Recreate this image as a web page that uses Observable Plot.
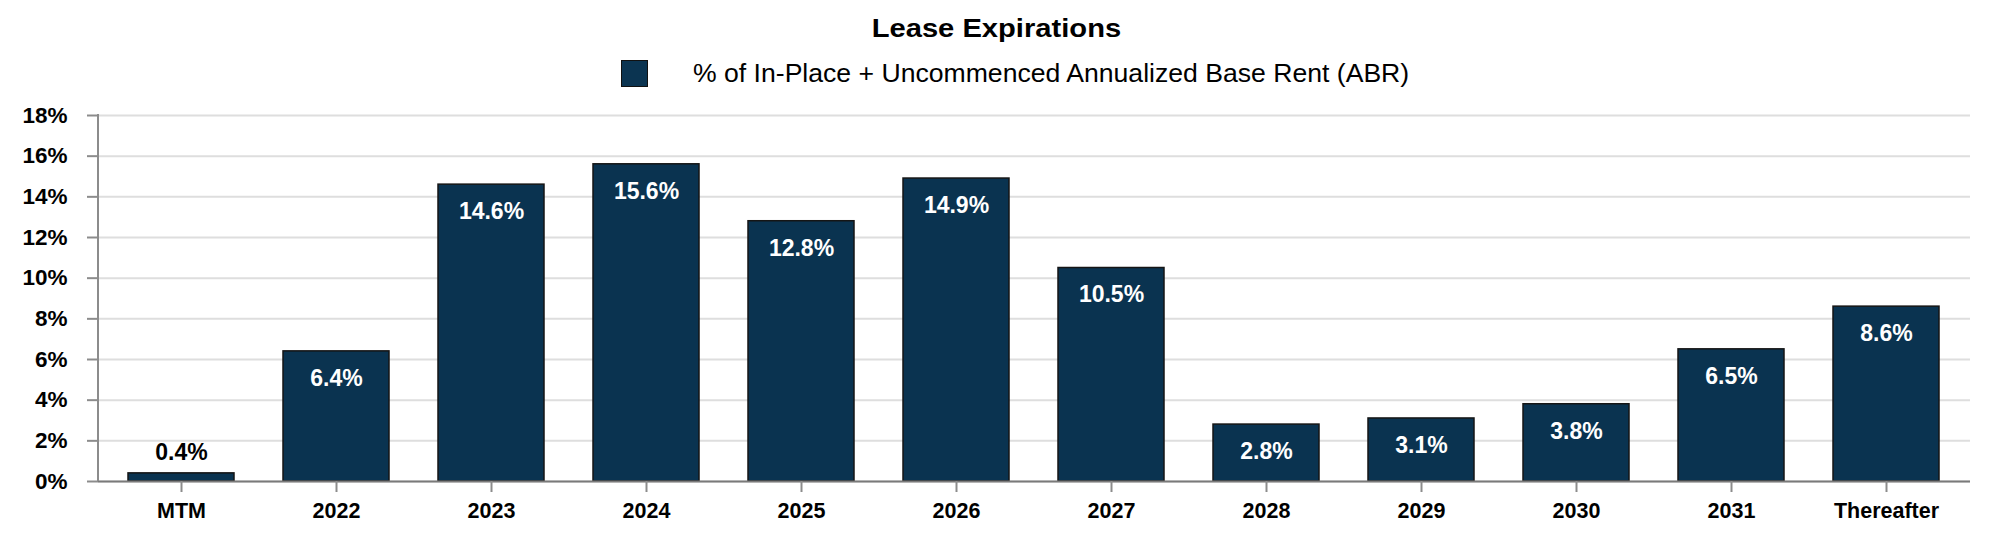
<!DOCTYPE html>
<html>
<head>
<meta charset="utf-8">
<script src="https://cdn.jsdelivr.net/npm/d3@7"></script>
<script src="https://cdn.jsdelivr.net/npm/@observablehq/plot@0.6"></script>
<style>
  html, body { margin: 0; padding: 0; background: #fff; }
  body { width: 1992px; height: 540px; overflow: hidden; font-family: "Liberation Sans", Arial, sans-serif; }
  #header { position: relative; width: 1992px; height: 96px; }
  #title { position: absolute; left: 0; width: 1992px; top: 13px; text-align: center; font-weight: bold; font-size: 26.5px; color: #000; }
  #title span { display: inline-block; transform: scaleX(1.1); }
  #legend { position: absolute; left: 621px; top: 60px; height: 27px; display: flex; align-items: center; }
  #legend .sw { width: 25px; height: 25px; background: #0b3451; border: 1px solid #111; }
  #legend .lbl { margin-left: 45px; font-size: 26.6px; color: #000; white-space: nowrap; }
  svg { display: block; }
</style>
</head>
<body>
<div id="header">
  <div id="title"><span>Lease Expirations</span></div>
  <div id="legend"><div class="sw"></div><div class="lbl">% of In-Place + Uncommenced Annualized Base Rent (ABR)</div></div>
</div>
<div id="chart"></div>
<script>
const categories = ["MTM", "2022", "2023", "2024", "2025", "2026", "2027", "2028", "2029", "2030", "2031", "Thereafter"];
const values = [0.4, 6.4, 14.6, 15.6, 12.8, 14.9, 10.5, 2.8, 3.1, 3.8, 6.5, 8.6];
const yTicks = [0, 2, 4, 6, 8, 10, 12, 14, 16, 18];

const data = categories.map((c, i) => ({category: c, value: values[i]}));
const inside = data.filter(d => d.value >= 2);
const outside = data.filter(d => d.value < 2);

const font = '"Liberation Sans", Arial, sans-serif';

const axisLine = (index, scales, values, dims) => {
  const ns = "http://www.w3.org/2000/svg";
  const l = document.createElementNS(ns, "line");
  l.setAttribute("x1", dims.marginLeft);
  l.setAttribute("x2", dims.marginLeft);
  l.setAttribute("y1", dims.marginTop - 1);
  l.setAttribute("y2", dims.height - dims.marginBottom);
  l.setAttribute("stroke", "#8c8c8c");
  l.setAttribute("stroke-width", 2);
  return l;
};

const plot = Plot.plot({
  width: 1992,
  height: 444,
  marginTop: 19,
  marginBottom: 59,
  marginLeft: 98,
  marginRight: 22,
  style: {fontFamily: font, background: "#fff"},
  x: {domain: categories, paddingInner: 0.314, paddingOuter: 0.16, label: null},
  y: {domain: [0, 18], label: null},
  marks: [
    Plot.gridY(yTicks, {stroke: "#dedede", strokeOpacity: 1, strokeWidth: 2}),
    Plot.barY(data, {x: "category", y: "value", fill: "#0a3350", stroke: "#151515", strokeWidth: 1.5}),
    Plot.ruleY([0], {stroke: "#7a7a7a", strokeWidth: 2}),
    axisLine,
    Plot.axisY(yTicks, {
      tickSize: 11, tickPadding: 20, stroke: "#8c8c8c", strokeWidth: 2,
      tickFormat: d => d + "%", fontSize: 22.5, fontWeight: "bold", fill: "#000", label: null
    }),
    Plot.axisX({
      tickSize: 11, tickPadding: 10, stroke: "#8c8c8c", strokeWidth: 2,
      fontSize: 21.5, fontWeight: "bold", fill: "#000", label: null
    }),
    Plot.text(inside, {
      x: "category", y: "value", text: d => d.value.toFixed(1) + "%",
      dy: 27, fill: "#fff", fontSize: 23, fontWeight: "bold", lineAnchor: "middle"
    }),
    Plot.text(outside, {
      x: "category", y: "value", text: d => d.value.toFixed(1) + "%",
      dy: -21, fill: "#000", fontSize: 23, fontWeight: "bold", lineAnchor: "middle"
    })
  ]
});
document.getElementById("chart").appendChild(plot);
</script>
</body>
</html>
